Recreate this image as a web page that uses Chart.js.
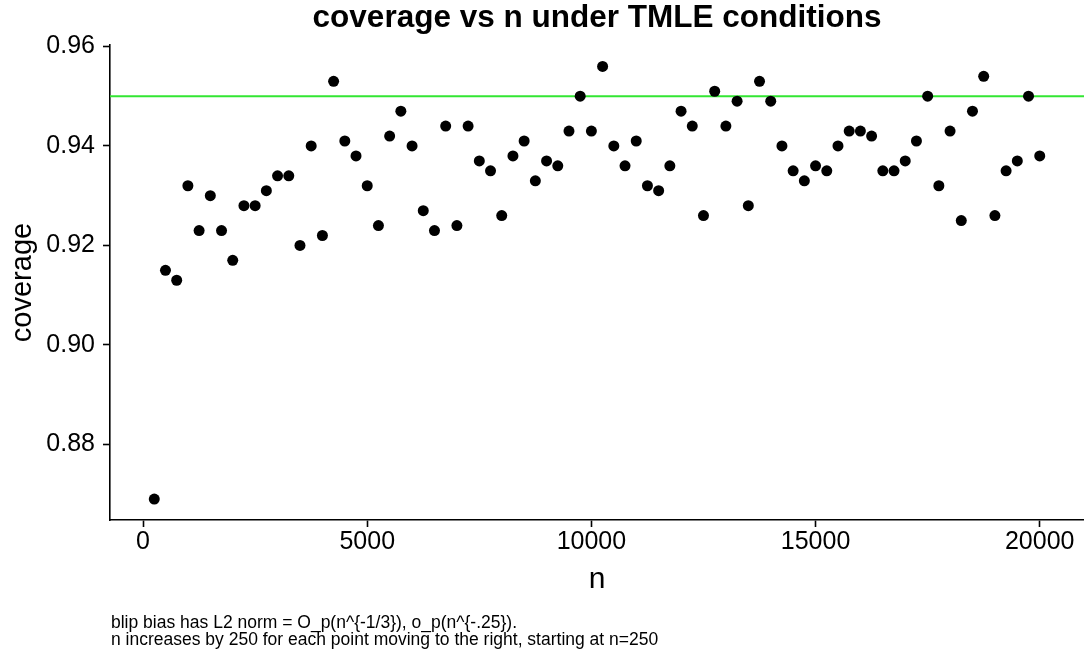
<!DOCTYPE html>
<html>
<head>
<meta charset="utf-8">
<script src="https://cdn.jsdelivr.net/npm/chart.js@4.4.0/dist/chart.umd.min.js"></script>
<style>
    html, body { margin: 0; padding: 0; background: #ffffff; }
    #wrap { width: 1084px; height: 654px; }
</style>
</head>
<body>
<div id="wrap"><canvas id="coverageChart" width="1084" height="654"></canvas></div>
<script>
// sample sizes (n goes up by 250 per point)
const nValues = [
    250, 500, 750, 1000, 1250, 1500, 1750, 2000, 2250, 2500,
    2750, 3000, 3250, 3500, 3750, 4000, 4250, 4500, 4750, 5000,
    5250, 5500, 5750, 6000, 6250, 6500, 6750, 7000, 7250, 7500,
    7750, 8000, 8250, 8500, 8750, 9000, 9250, 9500, 9750, 10000,
    10250, 10500, 10750, 11000, 11250, 11500, 11750, 12000, 12250, 12500,
    12750, 13000, 13250, 13500, 13750, 14000, 14250, 14500, 14750, 15000,
    15250, 15500, 15750, 16000, 16250, 16500, 16750, 17000, 17250, 17500,
    17750, 18000, 18250, 18500, 18750, 19000, 19250, 19500, 19750, 20000
];

// coverage
const coverage = [
    0.869, 0.915, 0.913, 0.932, 0.923, 0.930, 0.923, 0.917, 0.928, 0.928,
    0.931, 0.934, 0.934, 0.920, 0.940, 0.922, 0.953, 0.941, 0.938, 0.932,
    0.924, 0.942, 0.947, 0.940, 0.927, 0.923, 0.944, 0.924, 0.944, 0.937,
    0.935, 0.926, 0.938, 0.941, 0.933, 0.937, 0.936, 0.943, 0.950, 0.943,
    0.956, 0.940, 0.936, 0.941, 0.932, 0.931, 0.936, 0.947, 0.944, 0.926,
    0.951, 0.944, 0.949, 0.928, 0.953, 0.949, 0.940, 0.935, 0.933, 0.936,
    0.935, 0.940, 0.943, 0.943, 0.942, 0.935, 0.935, 0.937, 0.941, 0.950,
    0.932, 0.943, 0.925, 0.947, 0.954, 0.926, 0.935, 0.937, 0.950, 0.938
];

const nominalLevel = 0.95;
const xTicks = [0, 5000, 10000, 15000, 20000];
const yTicks = [0.88, 0.90, 0.92, 0.94, 0.96];

const captionLines = [
    'blip bias has L2 norm = O_p(n^{-1/3}), o_p(n^{-.25}).',
    'n increases by 250 for each point moving to the right, starting at n=250'
];

const FONT = "'Liberation Sans', Arial, Helvetica, sans-serif";

// ggplot-style range padding (5% each side)
const xMin = -737.5, xMax = 20987.5;
const yMin = 0.8648, yMax = 0.9603;

// caption under the plot
const captionPlugin = {
    id: 'caption',
    afterDraw(chart) {
        const ctx = chart.ctx;
        ctx.save();
        ctx.fillStyle = '#000';
        ctx.font = '17.5px ' + FONT;
        ctx.textAlign = 'left';
        ctx.textBaseline = 'alphabetic';
        ctx.fillText(captionLines[0], 111, 628);
        ctx.fillText(captionLines[1], 111, 645);
        ctx.restore();
    }
};

const points = nValues.map((n, i) => ({ x: n, y: coverage[i] }));

new Chart(document.getElementById('coverageChart').getContext('2d'), {
    type: 'scatter',
    data: {
        datasets: [
            {
                label: 'coverage',
                data: points,
                backgroundColor: '#000',
                borderWidth: 0,
                pointRadius: 5.5,
                pointHoverRadius: 5.5
            },
            {
                type: 'line',
                label: 'nominal',
                data: [{ x: xMin, y: nominalLevel }, { x: xMax, y: nominalLevel }],
                borderColor: '#33e633',
                borderWidth: 2.2,
                pointRadius: 0,
                fill: false
            }
        ]
    },
    options: {
        responsive: false,
        animation: false,
        // no auto padding, the plot panel should touch the right edge
        layout: { autoPadding: false, padding: 0 },
        plugins: {
            legend: { display: false },
            tooltip: { enabled: false },
            title: {
                display: true,
                text: 'coverage vs n under TMLE conditions',
                color: '#000',
                fullSize: false,
                font: { family: FONT, size: 31.5, weight: 'bold', lineHeight: 1 },
                padding: { top: 3, bottom: 10.5 }
            }
        },
        scales: {
            x: {
                type: 'linear',
                min: xMin,
                max: xMax,
                afterBuildTicks: scale => { scale.ticks = xTicks.map(v => ({ value: v })); },
                afterFit: scale => {
                    scale.height = 134;
                    scale.paddingLeft = 0;
                    scale.paddingRight = 0;
                },
                ticks: {
                    color: '#000',
                    font: { family: FONT, size: 25, lineHeight: 1 },
                    padding: 3,
                    maxRotation: 0,
                    autoSkip: false,
                    callback: v => String(v)
                },
                grid: { drawOnChartArea: false, drawTicks: true, tickLength: 7, tickColor: '#000', tickWidth: 1.6 },
                border: { display: true, color: '#000', width: 1.6 },
                title: {
                    display: true,
                    text: 'n',
                    color: '#000',
                    font: { family: FONT, size: 30, lineHeight: 1 },
                    padding: { top: 0, bottom: 59 }
                }
            },
            y: {
                min: yMin,
                max: yMax,
                afterBuildTicks: scale => { scale.ticks = yTicks.map(v => ({ value: v })); },
                afterFit: scale => {
                    scale.width = 110;
                    scale.paddingTop = 0;
                    scale.paddingBottom = 0;
                },
                ticks: {
                    color: '#000',
                    font: { family: FONT, size: 25, lineHeight: 1 },
                    padding: 8,
                    autoSkip: false,
                    callback: v => v.toFixed(2)
                },
                grid: { drawOnChartArea: false, drawTicks: true, tickLength: 7, tickColor: '#000', tickWidth: 1.6 },
                border: { display: true, color: '#000', width: 1.6 },
                title: {
                    display: true,
                    text: 'coverage',
                    color: '#000',
                    font: { family: FONT, size: 29, lineHeight: 1 },
                    padding: { top: 8, bottom: 0 }
                }
            }
        }
    },
    plugins: [captionPlugin]
});
</script>
</body>
</html>
